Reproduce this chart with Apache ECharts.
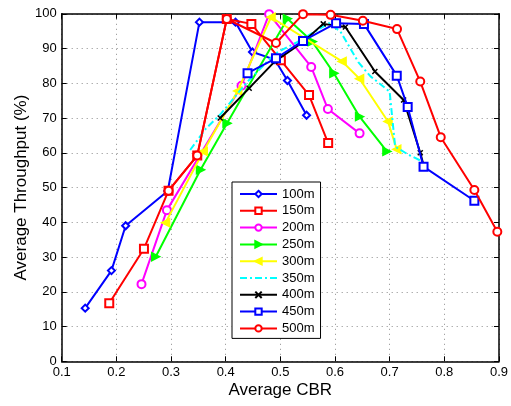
<!DOCTYPE html>
<html>
<head>
<meta charset="utf-8">
<script src="https://cdn.jsdelivr.net/npm/echarts@6/dist/echarts.min.js"></script>
<style>html,body{margin:0;padding:0;background:#fff}#c{width:511px;height:406px}</style>
</head>
<body>
<div id="c"></div>
<script>
// Data: [Average CBR, Average Throughput (%)]
const names = ['100m','150m','200m','250m','300m','350m','400m','450m','500m'];
const s100m = [[0.143,15.3],[0.191,26.1],[0.217,39.0],[0.294,49.0],[0.352,97.6],[0.418,97.6],[0.449,89.0],[0.49,86.8],[0.513,80.8],[0.548,70.8]];
const s150m = [[0.187,16.7],[0.2505,32.4],[0.2955,49.1],[0.348,59.2],[0.402,98.5],[0.447,97.1],[0.501,86.6],[0.5525,76.6],[0.5875,62.8]];
const s200m = [[0.246,22.2],[0.2925,43.5],[0.429,79.3],[0.4795,99.9],[0.5565,84.7],[0.587,72.6],[0.645,65.6]];
const s250m = [[0.272,30.1],[0.354,55.1],[0.4025,68.5],[0.513,98.6],[0.5585,92.0],[0.598,82.9],[0.645,70.4],[0.695,60.4]];
const s300m = [[0.290,39.9],[0.359,60.4],[0.422,77.8],[0.483,99.0],[0.613,86.3],[0.645,81.3],[0.697,69.0],[0.713,61.0]];
const s350m = [[0.335,60.8],[0.364,67.0],[0.39,71.0],[0.44,80.5],[0.49,88.5],[0.53,91.8],[0.589,97.3],[0.61,94.9],[0.643,86.0],[0.665,82.0],[0.70,77.6],[0.71,61.8],[0.735,59.4],[0.76,57.5]];
const s400m = [[0.390,70.0],[0.443,78.6],[0.49,86.3],[0.541,91.8],[0.5785,97.1],[0.619,96.2],[0.673,83.4],[0.7255,75.2],[0.756,60.0],[0.762,56.5]];
const s450m = [[0.440,82.9],[0.492,87.2],[0.5415,92.2],[0.602,97.3],[0.653,97.1],[0.713,82.2],[0.733,73.2],[0.762,56.0],[0.855,46.2]];
const s500m = [[0.2955,49.1],[0.348,59.2],[0.402,98.5],[0.492,91.6],[0.5415,99.9],[0.592,99.7],[0.651,98.0],[0.7135,95.6],[0.756,80.5],[0.7935,64.5],[0.855,49.3],[0.897,37.3]];
const xTicks = {min:0.1, max:0.9, interval:0.1};
const yTicks = {min:0, max:100, interval:10};

const allData = [s100m,s150m,s200m,s250m,s300m,s350m,s400m,s450m,s500m];
const colors = ['#0000ff','#ff0000','#ff00ff','#00ff00','#ffff00','#00ffff','#000000','#0000ff','#ff0000'];
const symbols = ['emptyDiamond','emptyRect','emptyCircle','triangle','triangle','none','path://M0,0L10,10M10,0L0,10','emptyRect','emptyCircle'];
const rotates = [0,0,0,-90,90,0,0,0,0];
const sizes = [7,8,8,8,8,0,5,8,8];

const font = 'Liberation Sans, Arial, Helvetica, sans-serif';
const series = names.map((n,i)=>({
  name:n, type:'line', data:allData[i],
  symbol:symbols[i], symbolSize:sizes[i], symbolRotate:rotates[i],
  showSymbol: symbols[i] !== 'none',
  lineStyle:{color:colors[i], width:2, type: i===5 ? [7,3,2,3] : 'solid'},
  itemStyle: i===6 ? {color:'#000', borderColor:'#000', borderWidth:1.5} : {color:colors[i], borderColor:colors[i], borderWidth:1.5},
  emphasis:{disabled:true}, animation:false, clip:true, z: 2+i
}));

const legendData = names.map((n,i)=> i===5 ? {name:n, itemStyle:{opacity:0}} : {name:n});

const chart = echarts.init(document.getElementById('c'), null, {renderer:'canvas'});
chart.setOption({
  backgroundColor:'#fff',
  animation:false,
  textStyle:{fontFamily:font},
  grid:{left:61.7, right:10.3, top:13.8, bottom:44.7, containLabel:false},
  legend:{
    data:legendData, orient:'vertical', left:232, top:182,
    backgroundColor:'#fff', borderColor:'#000', borderWidth:1, borderRadius:0,
    padding:[5,6,3,7], itemWidth:37, itemHeight:8, itemGap:2.8,
    textStyle:{fontSize:13, lineHeight:14, color:'#000', fontFamily:font},
    selectedMode:false
  },
  xAxis:[{
    type:'value', min:xTicks.min, max:xTicks.max, interval:xTicks.interval,
    name:'Average CBR', nameLocation:'middle', nameGap:21, nameMoveOverlap:false,
    nameTextStyle:{fontSize:17, color:'#000', fontFamily:font},
    axisLine:{show:true, onZero:false, lineStyle:{color:'#000', width:1.5}},
    axisTick:{show:true, inside:true, length:5, lineStyle:{color:'#000'}},
    axisLabel:{fontSize:13, color:'#000', margin:5, fontFamily:font},
    splitLine:{show:true, lineStyle:{color:'#8c8c8c', type:[1,4], width:1}}
  },{
    type:'value', position:'top', min:xTicks.min, max:xTicks.max, interval:xTicks.interval,
    axisLine:{show:true, onZero:false, lineStyle:{color:'#000', width:1.5}},
    axisTick:{show:true, inside:true, length:5, lineStyle:{color:'#000'}},
    axisLabel:{show:false}, splitLine:{show:false}
  }],
  yAxis:[{
    type:'value', min:yTicks.min, max:yTicks.max, interval:yTicks.interval,
    name:'Average Throughput (%)', nameLocation:'middle', nameGap:32, nameRotate:90, nameMoveOverlap:false,
    nameTextStyle:{fontSize:17, color:'#000', fontFamily:font},
    axisLine:{show:true, onZero:false, lineStyle:{color:'#000', width:1.5}},
    axisTick:{show:true, inside:true, length:5, lineStyle:{color:'#000'}},
    axisLabel:{fontSize:13, color:'#000', margin:5, fontFamily:font},
    splitLine:{show:true, lineStyle:{color:'#8c8c8c', type:[1,4], width:1}}
  },{
    type:'value', position:'right', min:yTicks.min, max:yTicks.max, interval:yTicks.interval,
    axisLine:{show:true, onZero:false, lineStyle:{color:'#000', width:1.5}},
    axisTick:{show:true, inside:true, length:5, lineStyle:{color:'#000'}},
    axisLabel:{show:false}, splitLine:{show:false}
  }],
  series:series
});
</script>
</body>
</html>
